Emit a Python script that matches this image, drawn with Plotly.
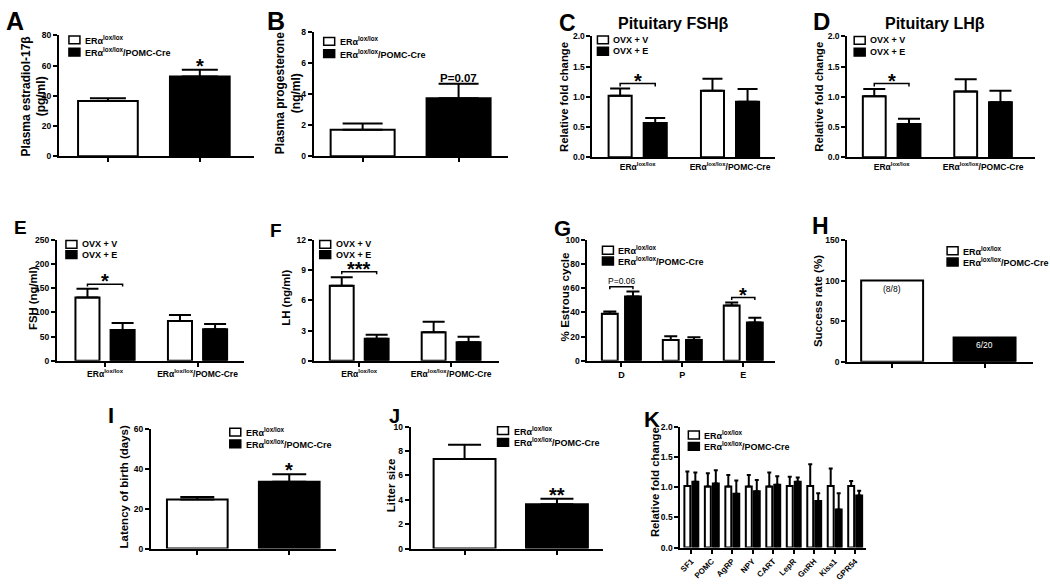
import plotly.graph_objects as go

W, H = 1050, 586
FONT = "Liberation Sans, Arial, Helvetica, sans-serif"

# ---------------- data ----------------
genotypes = ["ERα<sup>lox/lox</sup>", "ERα<sup>lox/lox</sup>/POMC-Cre"]
treatments = ["OVX + V", "OVX + E"]

# A  plasma estradiol-17β (pg/ml)
estradiol_mean = [36.6, 52.8]
estradiol_sem = [1.8, 4.5]
# B  plasma progesterone (ng/ml)
progesterone_mean = [1.71, 3.72]
progesterone_sem = [0.40, 0.94]
# C  pituitary FSHβ, relative fold change (per genotype)
fshb_v_mean = [1.02, 1.10]
fshb_v_sem = [0.12, 0.20]
fshb_e_mean = [0.57, 0.92]
fshb_e_sem = [0.08, 0.21]
# D  pituitary LHβ
lhb_v_mean = [1.01, 1.09]
lhb_v_sem = [0.12, 0.20]
lhb_e_mean = [0.55, 0.91]
lhb_e_sem = [0.09, 0.19]
# E  FSH (ng/ml)
fsh_v_mean = [131, 82.5]
fsh_v_sem = [18, 12.5]
fsh_e_mean = [63.5, 65.5]
fsh_e_sem = [14.5, 10.5]
# F  LH (ng/ml)
lh_v_mean = [7.45, 2.83]
lh_v_sem = [0.84, 1.04]
lh_e_mean = [2.18, 1.85]
lh_e_sem = [0.42, 0.55]
# G  % estrous cycle
phases = ["D", "P", "E"]
estrous_wt_mean = [38.9, 17.3, 45.7]
estrous_wt_sem = [1.9, 3.0, 2.6]
estrous_ko_mean = [53.2, 17.3, 31.6]
estrous_ko_sem = [4.1, 2.2, 4.1]
# H  success rate (%)
success_rate = [100, 30]
success_counts = ["(8/8)", "6/20"]
# I  latency of birth (days)
latency_mean = [24.5, 33.4]
latency_sem = [1.3, 3.8]
# J  litter size
litter_mean = [7.34, 3.63]
litter_sem = [1.18, 0.45]
# K  hypothalamic genes, relative fold change
genes = ["SF1", "POMC", "AgRP", "NPY", "CART", "LepR", "GnRH", "Kiss1", "GPR54"]
gene_wt_mean = [1.02, 1.01, 1.01, 1.01, 1.01, 1.02, 1.02, 1.02, 1.02]
gene_wt_sem = [0.24, 0.22, 0.19, 0.19, 0.23, 0.15, 0.36, 0.29, 0.08]
gene_ko_mean = [1.09, 1.06, 0.89, 0.93, 1.04, 1.09, 0.77, 0.63, 0.86]
gene_ko_sem = [0.15, 0.22, 0.22, 0.19, 0.14, 0.07, 0.13, 0.27, 0.08]

# ---------------- layout geometry (pixels) ----------------
GEOM = {
    "A": dict(n=1, px=(58, 253, 31, 154), xr=[-0.533, 1.587], yr=[0, 80], dtick=20, fmt=""),
    "B": dict(n=2, px=(313, 507, 27, 154), xr=[-0.51, 1.51], yr=[0, 8], dtick=2, fmt=""),
    "C": dict(n=3, px=(592, 775, 32, 155), xr=[-0.49, 1.49], yr=[0, 2], dtick=0.5, fmt=".1f"),
    "D": dict(n=4, px=(847, 1035, 32, 155), xr=[-0.486, 1.568], yr=[0, 2], dtick=0.5, fmt=".1f"),
    "E": dict(n=5, px=(56, 243, 239, 362), xr=[-0.52, 1.50], yr=[0, 250], dtick=50, fmt=""),
    "F": dict(n=6, px=(313, 498, 239, 362), xr=[-0.495, 1.516], yr=[0, 12], dtick=3, fmt=""),
    "G": dict(n=7, px=(587, 775, 239, 362), xr=[-0.557, 2.525], yr=[0, 100], dtick=20, fmt=""),
    "H": dict(n=8, px=(847, 1033, 239, 363), xr=[-0.486, 1.524], yr=[0, 150], dtick=50, fmt=""),
    "I": dict(n=9, px=(150, 335, 431, 553), xr=[-0.505, 1.505], yr=[0, 60], dtick=20, fmt=""),
    "J": dict(n=10, px=(410, 603, 429, 553), xr=[-0.584, 1.503], yr=[0, 10], dtick=2, fmt=""),
    "K": dict(n=11, px=(680, 866, 429, 552), xr=[-0.537, 8.537], yr=[0, 2], dtick=0.5, fmt=".1f"),
}

fig = go.Figure()
annotations = []
shapes = []


def ax_names(n):
    s = "" if n == 1 else str(n)
    return "x" + s, "y" + s, "xaxis" + s, "yaxis" + s


def err(vals, capw):
    return dict(type="data", symmetric=False, array=vals, arrayminus=[0] * len(vals),
                color="black", thickness=2, width=capw)


def bar_trace(n, x, y, fill, width, offset, sem=None, capw=10):
    xa, ya, _, _ = ax_names(n)
    kw = dict(x=x, y=y, xaxis=xa, yaxis=ya, width=width, offset=offset,
              marker=dict(color=fill, line=dict(color="black", width=2)),
              showlegend=False, hoverinfo="skip")
    if sem is not None:
        kw["error_y"] = err(sem, capw)
    fig.add_trace(go.Bar(**kw))


def pair_panel(key, cats, means, sems, width, capw):
    n = GEOM[key]["n"]
    fills = ["white", "black"]
    for i in range(2):
        bar_trace(n, [cats[i]], [means[i]], fills[i], width, -width / 2,
                  None if sems is None else [sems[i]], capw)


def grouped_panel(key, cats, series, width, sep, capw):
    n = GEOM[key]["n"]
    centers = []
    for k, (m, s, fill) in enumerate(series):
        c = (2 * k - 1) * sep
        centers.append(c)
        bar_trace(n, cats, m, fill, width, c - width / 2, s, capw)
    return centers


def bracket(key, idx, centers, level, drop, label, size, bold=True, yshift=-3):
    n = GEOM[key]["n"]
    xa, ya, _, _ = ax_names(n)
    x0, x1 = idx + centers[0], idx + centers[1]
    shapes.append(dict(type="path", xref=xa, yref=ya,
                       path=f"M{x0},{level - drop} L{x0},{level} L{x1},{level} L{x1},{level - drop}",
                       line=dict(color="black", width=1.5)))
    txt = f"<b>{label}</b>" if bold else label
    annotations.append(dict(x=(x0 + x1) / 2, y=level, xref=xa, yref=ya, text=txt,
                            showarrow=False, xanchor="center", yanchor="bottom", yshift=yshift,
                            font=dict(family=FONT, size=size, color="black")))


def star_above(key, cat, top, label, size, yshift=-9):
    n = GEOM[key]["n"]
    xa, ya, _, _ = ax_names(n)
    annotations.append(dict(x=cat, y=top, xref=xa, yref=ya, text=f"<b>{label}</b>",
                            showarrow=False, xanchor="center", yanchor="bottom", yshift=yshift,
                            font=dict(family=FONT, size=size, color="black")))


# ---------------- panels ----------------
pair_panel("A", genotypes, estradiol_mean, estradiol_sem, 0.65, 18)
star_above("A", genotypes[1], estradiol_mean[1] + estradiol_sem[1], "*", 20)

pair_panel("B", genotypes, progesterone_mean, progesterone_sem, 0.667, 20)
annotations.append(dict(x=genotypes[1], y=progesterone_mean[1] + progesterone_sem[1], xref="x2", yref="y2",
                        text="<b><u>P=0.07</u></b>", showarrow=False, xanchor="center", yanchor="bottom",
                        yshift=-2, font=dict(family=FONT, size=11.5, color="black")))

cC = grouped_panel("C", genotypes, [(fshb_v_mean, fshb_v_sem, "white"), (fshb_e_mean, fshb_e_sem, "black")],
                   0.25, 0.19, 10)
bracket("C", 0, cC, max(fshb_v_mean[0] + fshb_v_sem[0], fshb_e_mean[0] + fshb_e_sem[0]) + 0.08, 0.05, "*", 20, yshift=-10)

cD = grouped_panel("D", genotypes, [(lhb_v_mean, lhb_v_sem, "white"), (lhb_e_mean, lhb_e_sem, "black")],
                   0.25, 0.19, 11)
bracket("D", 0, cD, max(lhb_v_mean[0] + lhb_v_sem[0], lhb_e_mean[0] + lhb_e_sem[0]) + 0.09, 0.05, "*", 20, yshift=-10)

cE = grouped_panel("E", genotypes, [(fsh_v_mean, fsh_v_sem, "white"), (fsh_e_mean, fsh_e_sem, "black")],
                   0.26, 0.19, 11)
bracket("E", 0, cE, max(fsh_v_mean[0] + fsh_v_sem[0], fsh_e_mean[0] + fsh_e_sem[0]) + 9.5, 5, "*", 20, yshift=-10)

cF = grouped_panel("F", genotypes, [(lh_v_mean, lh_v_sem, "white"), (lh_e_mean, lh_e_sem, "black")],
                   0.26, 0.19, 11)
bracket("F", 0, cF, max(lh_v_mean[0] + lh_v_sem[0], lh_e_mean[0] + lh_e_sem[0]) + 0.55, 0.25, "***", 20, yshift=-10)

cG = grouped_panel("G", phases, [(estrous_wt_mean, estrous_wt_sem, "white"), (estrous_ko_mean, estrous_ko_sem, "black")],
                   0.26, 0.19, 6.5)
bracket("G", 0, cG, max(estrous_wt_mean[0] + estrous_wt_sem[0], estrous_ko_mean[0] + estrous_ko_sem[0]) + 4,
        2, "P=0.06", 8.5, bold=False, yshift=-1)
bracket("G", 2, cG, max(estrous_wt_mean[2] + estrous_wt_sem[2], estrous_ko_mean[2] + estrous_ko_sem[2]) + 4,
        2, "*", 20, yshift=-10)

pair_panel("H", genotypes, success_rate, None, 0.67, 0)
for i, col in enumerate(["black", "white"]):
    annotations.append(dict(x=genotypes[i], y=success_rate[i], xref="x8", yref="y8", text=success_counts[i],
                            showarrow=False, xanchor="center", yanchor="top", yshift=-1,
                            font=dict(family=FONT, size=8.5, color=col)))

pair_panel("I", genotypes, latency_mean, latency_sem, 0.66, 17)
star_above("I", genotypes[1], latency_mean[1] + latency_sem[1], "*", 20)

pair_panel("J", genotypes, litter_mean, litter_sem, 0.67, 16.5)
star_above("J", genotypes[1], litter_mean[1] + litter_sem[1], "**", 20)

grouped_panel("K", genes, [(gene_wt_mean, gene_wt_sem, "white"), (gene_ko_mean, gene_ko_sem, "black")],
              0.29, 0.195, 2)

# ---------------- axes ----------------
XTICKS = {  # (show tick marks, show labels, label size, angle)
    "A": (True, False, 8, 0), "B": (True, False, 8, 0), "C": (False, True, 8.5, 0),
    "D": (False, True, 8.5, 0), "E": (True, True, 8.5, 0), "F": (True, True, 8.5, 0),
    "G": (True, True, 9, 0), "H": (True, False, 8, 0), "I": (True, False, 8, 0),
    "J": (True, False, 8, 0), "K": (True, True, 8, -45),
}
CATS = {"A": genotypes, "B": genotypes, "C": genotypes, "D": genotypes, "E": genotypes,
        "F": genotypes, "G": phases, "H": genotypes, "I": genotypes, "J": genotypes, "K": genes}

layout_axes = {}
for key, g in GEOM.items():
    xa, ya, xk, yk = ax_names(g["n"])
    x0, x1, yt, yb = g["px"]
    tk, lab, fs, ang = XTICKS[key]
    layout_axes[xk] = dict(domain=[x0 / W, x1 / W], anchor=ya, type="category",
                           categoryorder="array", categoryarray=CATS[key], range=g["xr"],
                           showline=True, linecolor="black", linewidth=2,
                           ticks="outside" if tk else "", ticklen=4, tickwidth=1.5, tickcolor="black",
                           showticklabels=lab, tickangle=ang,
                           tickfont=dict(family=FONT, size=fs, color="black", weight="bold"),
                           showgrid=False, zeroline=False, fixedrange=True)
    layout_axes[yk] = dict(domain=[1 - yb / H, 1 - yt / H], anchor=xa, range=g["yr"],
                           tick0=0, dtick=g["dtick"], tickformat=g["fmt"],
                           showline=True, linecolor="black", linewidth=2,
                           ticks="outside", ticklen=4, tickwidth=1.5, tickcolor="black",
                           tickfont=dict(family=FONT, size=8.5, color="black", weight="bold"),
                           showgrid=False, zeroline=False, fixedrange=True)

# ---------------- y-axis titles ----------------
YTITLES = [  # text, center x px, center y px, size
    ("Plasma estradiol-17β<br>(pg/ml)", 33, 93, 12),
    ("Plasma progesterone<br>(ng/ml)", 288, 90, 12),
    ("Relative fold change", 564, 93, 11.3),
    ("Relative fold change", 819, 93, 11.3),
    ("FSH (ng/ml)", 32, 298, 11.3),
    ("LH (ng/ml)", 285, 298, 11.3),
    ("% Estrous cycle", 564, 297, 11.6),
    ("Success rate (%)", 818, 301, 11.5),
    ("Latency of birth (days)", 123, 490, 11.5),
    ("Litter size", 390, 489, 11.5),
    ("Relative fold change", 654, 485, 11.3),
]
for t, px, py, s in YTITLES:
    annotations.append(dict(x=px / W, y=1 - py / H, xref="paper", yref="paper", text=f"<b>{t}</b>",
                            textangle=-90, showarrow=False, xanchor="center", yanchor="middle",
                            font=dict(family=FONT, size=s, color="black")))

# ---------------- panel letters & titles ----------------
LETTERS = [("A", 14, 16, 25), ("B", 275, 16, 25), ("C", 567, 18, 23), ("D", 821, 17, 24),
           ("E", 20, 226, 19), ("F", 275, 229, 19), ("G", 562, 227, 22), ("H", 820, 225, 23),
           ("I", 110, 418, 22), ("J", 394, 418, 20), ("K", 652, 422, 22)]
for t, px, py, s in LETTERS:
    annotations.append(dict(x=px / W, y=1 - py / H, xref="paper", yref="paper", text=f"<b>{t}</b>",
                            showarrow=False, xanchor="center", yanchor="middle",
                            font=dict(family=FONT, size=s, color="black")))

TITLES = [("Pituitary FSHβ", 673, 19), ("Pituitary LHβ", 935, 19)]
for t, px, py in TITLES:
    annotations.append(dict(x=px / W, y=1 - py / H, xref="paper", yref="paper", text=f"<b>{t}</b>",
                            showarrow=False, xanchor="center", yanchor="middle",
                            font=dict(family=FONT, size=16, color="black")))

# ---------------- legends (swatch left x, row centers y) ----------------
LEGENDS = [
    (68, 35.5, 48, genotypes), (323, 37, 49.5, genotypes), (597, 35.5, 47, treatments),
    (854, 36, 48, treatments), (65, 243.5, 254, treatments), (319, 243.5, 254, treatments),
    (602, 249.5, 260.5, genotypes), (947, 250, 261.5, genotypes), (229, 434.5, 446.5, genotypes),
    (497, 433, 445, genotypes), (688, 437.5, 449, genotypes),
]
for lx, r1, r2, labels in LEGENDS:
    for ry, fill, lab in [(r1, "white", labels[0]), (r2, "black", labels[1])]:
        shapes.append(dict(type="rect", xref="paper", yref="paper",
                           x0=lx / W, x1=(lx + 11) / W, y0=1 - (ry + 4) / H, y1=1 - (ry - 4) / H,
                           fillcolor=fill, line=dict(color="black", width=1.5)))
        annotations.append(dict(x=(lx + 14) / W, y=1 - ry / H, xref="paper", yref="paper",
                                text=f"<b>{lab}</b>", showarrow=False, xanchor="left", yanchor="middle",
                                font=dict(family=FONT, size=9, color="black")))

fig.update_layout(
    width=W, height=H, margin=dict(l=0, r=0, t=0, b=0),
    paper_bgcolor="white", plot_bgcolor="white", barmode="overlay",
    showlegend=False, annotations=annotations, shapes=shapes,
    font=dict(family=FONT, color="black"),
    **layout_axes,
)

fig.write_html("out.html", config={"displayModeBar": False},
               post_script="document.body.style.margin='0';document.body.style.overflow='hidden';")
